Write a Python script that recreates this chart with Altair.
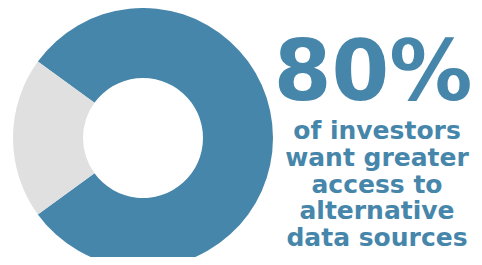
import altair as alt
import pandas as pd

categories = ["want greater access", "other"]
values = [80, 20]
order_idx = [0, 1]
colors = ["#4786AB", "#E0E0E0"]
headline = "80%"
sub_lines = ["of investors", "want greater", "access to", "alternative", "data sources"]

df = pd.DataFrame({"cat": categories, "value": values, "idx": order_idx})

start = 306 * 3.14159265 / 180
donut = alt.Chart(df).mark_arc(innerRadius=60, outerRadius=130).encode(
    theta=alt.Theta("value:Q", stack=True, scale=alt.Scale(range=[start, start + 2 * 3.14159265])),
    color=alt.Color("cat:N", scale=alt.Scale(domain=categories, range=colors), legend=None),
    order=alt.Order("idx:Q"),
    x=alt.value(135),
    y=alt.value(129),
)

head = alt.Chart(pd.DataFrame({"t": [headline]})).mark_text(
    font="DejaVu Sans", fontWeight="bold", fontSize=83, color="#4786AB",
    align="center", baseline="alphabetic"
).encode(text="t:N", x=alt.value(365), y=alt.value(91))

sub = alt.Chart(pd.DataFrame({"t": ["\n".join(sub_lines)]})).mark_text(
    font="DejaVu Sans", fontWeight="bold", fontSize=25, color="#4786AB",
    align="center", baseline="alphabetic", lineBreak="\n", lineHeight=26.8
).encode(text="t:N", x=alt.value(369), y=alt.value(130))

chart = alt.layer(donut, head, sub).properties(
    width=466, height=249, padding=0,
    autosize=alt.AutoSizeParams(type="fit", contains="padding"),
).configure_view(stroke=None)

chart.save("out.html", embed_options={"renderer": "svg", "actions": False})
